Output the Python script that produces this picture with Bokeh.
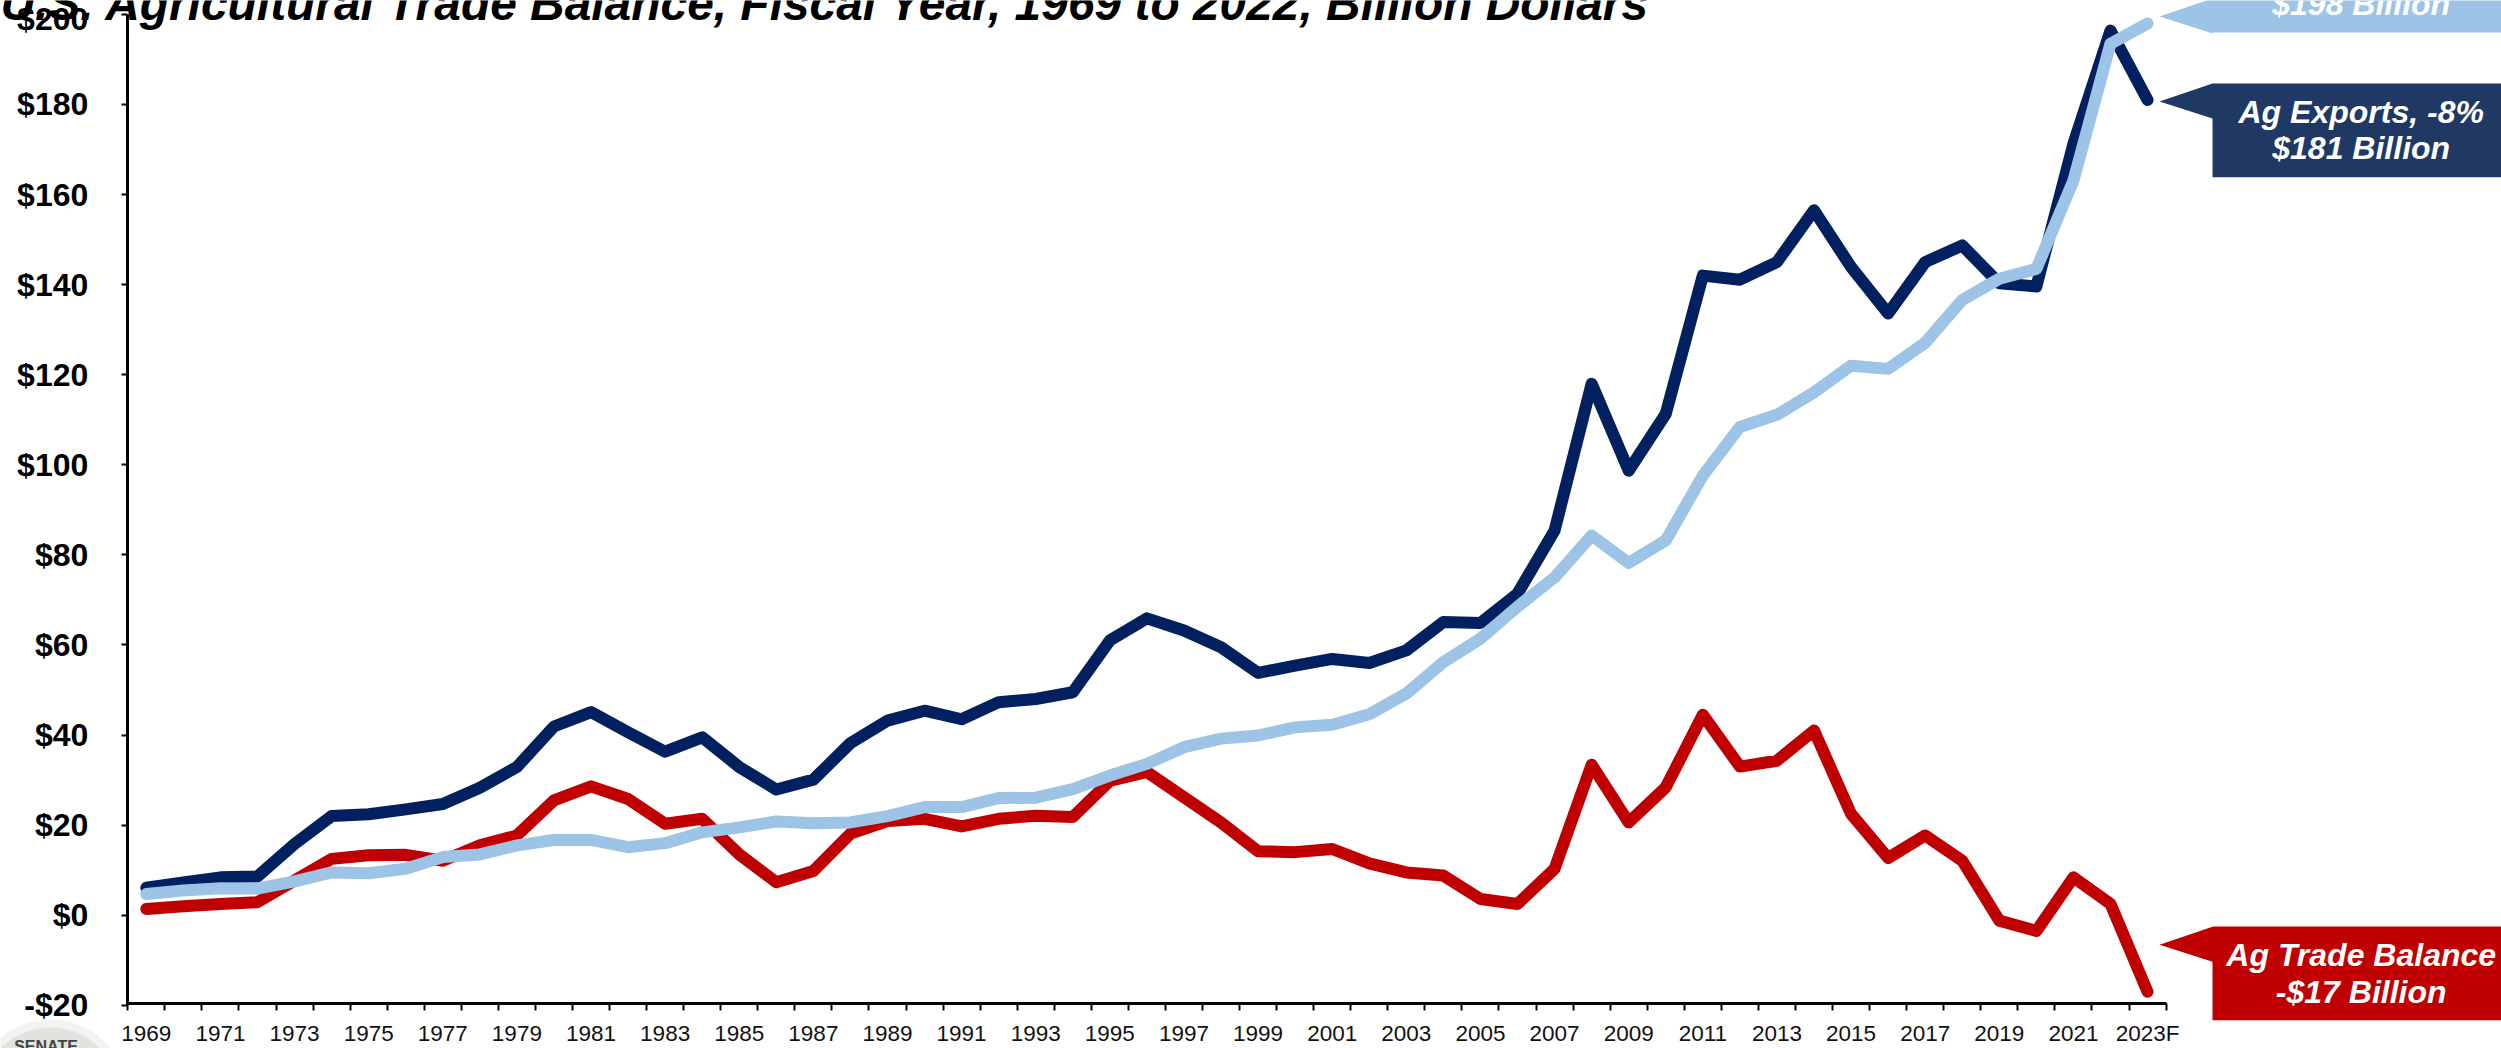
import numpy as np
from bokeh.core.properties import value
from bokeh.embed import file_html
from bokeh.resources import INLINE
from bokeh.plotting import figure
from bokeh.models import FixedTicker

years = list(range(1969, 2024))
ag_exports = [6.1, 7.3, 8.4, 8.6, 15.8, 22.0, 22.4, 23.5, 24.7, 28.3, 32.9, 41.9, 45.1, 40.6,
              36.3, 39.5, 32.9, 27.9, 30.1, 38.2, 43.2, 45.4, 43.5, 47.3, 48.0, 49.5, 61.0, 65.9,
              63.2, 59.5, 53.8, 55.4, 56.9, 56.0, 58.8, 65.1, 64.9, 71.4, 85.4, 118.0, 98.7, 111.3,
              142.0, 141.1, 145.0, 156.5, 143.9, 133.6, 145.0, 148.7, 140.3, 139.6, 171.3, 196.4, 181.0]
ag_imports = [4.7, 5.5, 6.0, 5.9, 7.5, 9.5, 9.3, 10.3, 12.9, 13.5, 15.5, 16.7, 16.7, 15.1,
              16.0, 18.4, 19.5, 20.8, 20.4, 20.6, 22.0, 24.0, 24.0, 26.0, 26.1, 28.0, 31.0, 33.6,
              37.3, 39.2, 39.9, 41.7, 42.3, 44.6, 49.2, 56.2, 61.4, 68.5, 75.0, 84.3, 78.2, 83.2,
              97.6, 108.4, 111.1, 116.1, 122.0, 121.3, 127.1, 136.6, 141.3, 143.5, 163.1, 193.5, 198.0]
ag_balance = [1.4, 2.0, 2.5, 2.9, 7.7, 12.5, 13.3, 13.4, 12.1, 15.5, 17.7, 25.5, 28.6, 25.8,
              20.3, 21.4, 13.5, 7.3, 9.8, 18.1, 20.9, 21.4, 19.7, 21.4, 22.1, 21.8, 29.8, 31.8,
              26.2, 20.6, 14.2, 14.0, 14.7, 11.5, 9.5, 8.8, 3.6, 2.5, 10.3, 33.4, 20.6, 28.4,
              44.5, 33.0, 34.3, 41.0, 22.5, 12.7, 17.7, 12.1, -1.2, -3.5, 8.4, 2.5, -17.0]
y_ticks = list(range(-20, 201, 20))
y_tick_labels = {v: (f"-${-v}" if v < 0 else f"${v}") for v in y_ticks}
x_tick_years = list(range(1969, 2024, 2))
x_tick_labels = {y: str(y) for y in x_tick_years}
x_tick_labels[2023] = "2023F"
title_text = "U.S. Agricultural Trade Balance, Fiscal Year, 1969 to 2022, Billion Dollars"

NAVY, LIGHT, RED, NAVY_BOX = "#002060", "#9DC3E6", "#C00000", "#1F3864"
W, H = 2501, 1048

# The frame fills the canvas, so callouts and title can sit anywhere on it.
X0_PX, X_SCALE = 145.8, 37.06     # pixel of 1969, pixels per year
Y0_PX, Y_SCALE = 914.7, 4.504     # pixel of $0, pixels per dollar


def dx(px):
    return 1969 + (np.asarray(px, dtype=float) - X0_PX) / X_SCALE


def dy(px):
    return (Y0_PX - np.asarray(px, dtype=float)) / Y_SCALE


p = figure(width=W, height=H, output_backend="svg", toolbar_location=None,
           x_range=(float(dx(0)), float(dx(W))), y_range=(float(dy(H)), float(dy(0))),
           min_border=0, outline_line_color=None, background_fill_color="white", border_fill_color="white")
p.margin = (0, 0, 0, 0)
p.grid.visible = False

AXIS_Y = float(dy(1002.8))
AXIS_X = float(dx(126.8))

xa, ya = p.xaxis[0], p.yaxis[0]
xa.fixed_location = AXIS_Y
xa.bounds = (1968.5, 2023.5)
xa.ticker = FixedTicker(ticks=x_tick_years, minor_ticks=[y - 0.5 for y in years] + [2023.5])
xa.major_label_overrides = x_tick_labels
xa.major_tick_line_color = None
xa.major_tick_in = xa.major_tick_out = 0
xa.minor_tick_in, xa.minor_tick_out = 0, 7
xa.minor_tick_line_color = "black"
xa.minor_tick_line_width = 2
xa.axis_line_width = 3
xa.axis_line_color = "black"
xa.major_label_standoff = 11
xa.major_label_text_font = "Liberation Sans"
xa.major_label_text_font_size = "22.5px"
xa.major_label_text_color = "#111111"

ya.fixed_location = AXIS_X
ya.bounds = (-20, 200)
ya.ticker = FixedTicker(ticks=y_ticks, minor_ticks=[])
ya.major_label_overrides = y_tick_labels
ya.major_tick_in, ya.major_tick_out = 0, 6
ya.major_tick_line_width = 2
ya.major_tick_line_color = "black"
ya.axis_line_width = 3
ya.axis_line_color = "black"
ya.major_label_standoff = 33
ya.major_label_text_font = "Liberation Sans"
ya.major_label_text_font_style = "bold"
ya.major_label_text_font_size = "32px"
ya.major_label_text_color = "black"

for series, colour in ((ag_exports, NAVY), (ag_balance, RED), (ag_imports, LIGHT)):
    p.line(years, series, line_color=colour, line_width=12, line_cap="round", line_join="round")


def poly(xs, ys, colour):
    p.patch(dx(xs), dy(ys), fill_color=colour, line_color=None)


BASELINE_SHIFT = 0.35  # Bokeh sets "alphabetic" text this many ems lower on the SVG backend


def text(x, baseline, t, colour, px, style, align="center", font="Liberation Sans"):
    p.text([float(dx(x))], [float(dy(baseline - BASELINE_SHIFT * px))], text=[t], text_color=colour,
           text_font=value(font), text_font_size=value(f"{px}px"), text_font_style=style,
           text_align=align, text_baseline="alphabetic")


def callout(top, tip_y, colour):
    poly([2159, 2212, 2212, 2501, 2501, 2212, 2212],
         [tip_y, tip_y - 18, top, top, top + 93.7, top + 93.7, tip_y + 17], colour)


callout(-61.7, 16, LIGHT)
callout(83, 101, NAVY_BOX)
callout(926, 944.3, RED)
CX = 2360.7
text(CX, 14.7, "$198 Billion", "white", 32, "bold italic")
text(CX, 122.7, "Ag Exports, -8%", "white", 32, "bold italic")
text(CX, 159, "$181 Billion", "white", 32, "bold italic")
text(CX, 966, "Ag Trade Balance", "white", 32, "bold italic")
text(CX, 1003, "-$17 Billion", "white", 32, "bold italic")

# Seal peeking in at the lower left corner
t = np.linspace(0, 2 * np.pi, 180)
poly(50 + 78 * np.cos(t), 1097 + 78 * np.sin(t), "#F3F3F3")
poly(50 + 70 * np.cos(t), 1097 + 70 * np.sin(t), "#E2E3DF")
text(45.5, 1052, "SENATE", "#444444", 16, "bold")

text(0, 20, title_text, "black", 47.9, "bold italic", align="left")

open("out.html", "w").write(file_html(p, INLINE))
